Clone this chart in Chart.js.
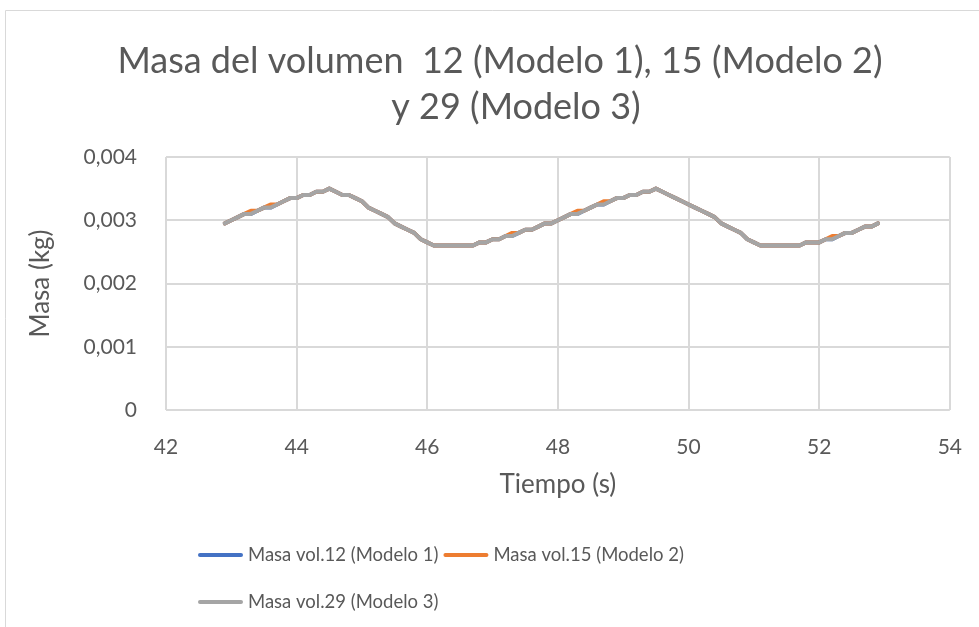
<!DOCTYPE html>
<html>
<head>
<meta charset="utf-8">
<title>Masa del volumen</title>
<script src="https://cdn.jsdelivr.net/npm/chart.js@4/dist/chart.umd.min.js"></script>
<style>
  html, body { margin: 0; padding: 0; background: #ffffff; }
  canvas { display: block; }
</style>
</head>
<body>
<canvas id="grafico" width="979" height="627"></canvas>
<script>
// Tiempo (s)
const tiempo = [
  42.9, 43.0, 43.1, 43.2, 43.3, 43.4, 43.5, 43.6, 43.7, 43.8, 43.9,
  44.0, 44.1, 44.2, 44.3, 44.4, 44.5, 44.6, 44.7, 44.8, 44.9,
  45.0, 45.1, 45.2, 45.3, 45.4, 45.5, 45.6, 45.7, 45.8, 45.9,
  46.0, 46.1, 46.2, 46.3, 46.4, 46.5, 46.6, 46.7, 46.8, 46.9,
  47.0, 47.1, 47.2, 47.3, 47.4, 47.5, 47.6, 47.7, 47.8, 47.9,
  48.0, 48.1, 48.2, 48.3, 48.4, 48.5, 48.6, 48.7, 48.8, 48.9,
  49.0, 49.1, 49.2, 49.3, 49.4, 49.5, 49.6, 49.7, 49.8, 49.9,
  50.0, 50.1, 50.2, 50.3, 50.4, 50.5, 50.6, 50.7, 50.8, 50.9,
  51.0, 51.1, 51.2, 51.3, 51.4, 51.5, 51.6, 51.7, 51.8, 51.9,
  52.0, 52.1, 52.2, 52.3, 52.4, 52.5, 52.6, 52.7, 52.8, 52.9
];

// Masa vol.12 (Modelo 1), kg
const masaVol12 = [
  0.00295, 0.00300, 0.00305, 0.00310, 0.00310, 0.00315, 0.00320, 0.00320, 0.00325, 0.00330, 0.00335,
  0.00335, 0.00340, 0.00340, 0.00345, 0.00345, 0.00350, 0.00345, 0.00340, 0.00340, 0.00335,
  0.00330, 0.00320, 0.00315, 0.00310, 0.00305, 0.00295, 0.00290, 0.00285, 0.00280, 0.00270,
  0.00265, 0.00260, 0.00260, 0.00260, 0.00260, 0.00260, 0.00260, 0.00260, 0.00265, 0.00265,
  0.00270, 0.00270, 0.00275, 0.00275, 0.00280, 0.00285, 0.00285, 0.00290, 0.00295, 0.00295,
  0.00300, 0.00305, 0.00310, 0.00310, 0.00315, 0.00320, 0.00325, 0.00325, 0.00330, 0.00335,
  0.00335, 0.00340, 0.00340, 0.00345, 0.00345, 0.00350, 0.00345, 0.00340, 0.00335, 0.00330,
  0.00325, 0.00320, 0.00315, 0.00310, 0.00305, 0.00295, 0.00290, 0.00285, 0.00280, 0.00270,
  0.00265, 0.00260, 0.00260, 0.00260, 0.00260, 0.00260, 0.00260, 0.00260, 0.00265, 0.00265,
  0.00265, 0.00270, 0.00270, 0.00275, 0.00280, 0.00280, 0.00285, 0.00290, 0.00290, 0.00295
];

// Masa vol.15 (Modelo 2), kg
const masaVol15 = [
  0.00295, 0.00300, 0.00305, 0.00310, 0.00315, 0.00315, 0.00320, 0.00325, 0.00325, 0.00330, 0.00335,
  0.00335, 0.00340, 0.00340, 0.00345, 0.00345, 0.00350, 0.00345, 0.00340, 0.00340, 0.00335,
  0.00330, 0.00320, 0.00315, 0.00310, 0.00305, 0.00295, 0.00290, 0.00285, 0.00280, 0.00270,
  0.00265, 0.00260, 0.00260, 0.00260, 0.00260, 0.00260, 0.00260, 0.00260, 0.00265, 0.00265,
  0.00270, 0.00270, 0.00275, 0.00280, 0.00280, 0.00285, 0.00285, 0.00290, 0.00295, 0.00295,
  0.00300, 0.00305, 0.00310, 0.00315, 0.00315, 0.00320, 0.00325, 0.00330, 0.00330, 0.00335,
  0.00335, 0.00340, 0.00340, 0.00345, 0.00345, 0.00350, 0.00345, 0.00340, 0.00335, 0.00330,
  0.00325, 0.00320, 0.00315, 0.00310, 0.00305, 0.00295, 0.00290, 0.00285, 0.00280, 0.00270,
  0.00265, 0.00260, 0.00260, 0.00260, 0.00260, 0.00260, 0.00260, 0.00260, 0.00265, 0.00265,
  0.00265, 0.00270, 0.00275, 0.00275, 0.00280, 0.00280, 0.00285, 0.00290, 0.00290, 0.00295
];

// Masa vol.29 (Modelo 3), kg
const masaVol29 = [
  0.00295, 0.00300, 0.00305, 0.00310, 0.00310, 0.00315, 0.00320, 0.00320, 0.00325, 0.00330, 0.00335,
  0.00335, 0.00340, 0.00340, 0.00345, 0.00345, 0.00350, 0.00345, 0.00340, 0.00340, 0.00335,
  0.00330, 0.00320, 0.00315, 0.00310, 0.00305, 0.00295, 0.00290, 0.00285, 0.00280, 0.00270,
  0.00265, 0.00260, 0.00260, 0.00260, 0.00260, 0.00260, 0.00260, 0.00260, 0.00265, 0.00265,
  0.00270, 0.00270, 0.00275, 0.00275, 0.00280, 0.00285, 0.00285, 0.00290, 0.00295, 0.00295,
  0.00300, 0.00305, 0.00310, 0.00310, 0.00315, 0.00320, 0.00325, 0.00325, 0.00330, 0.00335,
  0.00335, 0.00340, 0.00340, 0.00345, 0.00345, 0.00350, 0.00345, 0.00340, 0.00335, 0.00330,
  0.00325, 0.00320, 0.00315, 0.00310, 0.00305, 0.00295, 0.00290, 0.00285, 0.00280, 0.00270,
  0.00265, 0.00260, 0.00260, 0.00260, 0.00260, 0.00260, 0.00260, 0.00260, 0.00265, 0.00265,
  0.00265, 0.00270, 0.00270, 0.00275, 0.00280, 0.00280, 0.00285, 0.00290, 0.00290, 0.00295
];

const nombresSeries = ['Masa vol.12 (Modelo 1)', 'Masa vol.15 (Modelo 2)', 'Masa vol.29 (Modelo 3)'];
const coloresSeries = ['#4472C4', '#ED7D31', '#A5A5A5'];

const xTickValores = [42, 44, 46, 48, 50, 52, 54];
const xTickEtiquetas = ['42', '44', '46', '48', '50', '52', '54'];
const yTickValores = [0, 0.001, 0.002, 0.003, 0.004];
const yTickEtiquetas = ['0', '0,001', '0,002', '0,003', '0,004'];

const tituloLineas = ['Masa del volumen  12 (Modelo 1), 15 (Modelo 2)', 'y 29 (Modelo 3)'];
const tituloEjeX = 'Tiempo (s)';
const tituloEjeY = 'Masa (kg)';

const FUENTE = 'Lato, "Open Sans", sans-serif';
const GRIS_TEXTO = '#595959';
const GRIS_REJILLA = '#d9d9d9';

function puntos(valores) {
  return tiempo.map((t, i) => ({ x: t, y: valores[i] }));
}

// Outer frame, title and legend are painted around the chart area
const marcoTituloLeyenda = {
  id: 'marcoTituloLeyenda',
  beforeDraw(chart) {
    const ctx = chart.ctx;
    ctx.save();
    ctx.strokeStyle = GRIS_REJILLA;
    ctx.lineWidth = 1;
    ctx.beginPath();
    ctx.moveTo(5.5, 627);
    ctx.lineTo(5.5, 10.5);
    ctx.lineTo(979, 10.5);
    ctx.stroke();

    ctx.fillStyle = GRIS_TEXTO;
    ctx.font = '36px ' + FUENTE;
    ctx.textAlign = 'center';
    ctx.textBaseline = 'middle';
    ctx.fillText(tituloLineas[0], 500, 61);
    ctx.fillText(tituloLineas[1], 516, 107);
    ctx.restore();
  },
  afterDraw(chart) {
    const ctx = chart.ctx;
    const ds = chart.data.datasets;
    ctx.save();
    ctx.font = '18.5px ' + FUENTE;
    ctx.textAlign = 'left';
    ctx.textBaseline = 'middle';
    const largoLinea = 45;
    const hueco = 5;
    const filas = [[0, 1], [2]];
    const yFilas = [555, 602];
    filas.forEach((fila, f) => {
      let x = 198;
      fila.forEach(idx => {
        const y = yFilas[f];
        ctx.strokeStyle = ds[idx].borderColor;
        ctx.lineWidth = 4;
        ctx.lineCap = 'round';
        ctx.beginPath();
        ctx.moveTo(x + 2, y);
        ctx.lineTo(x + largoLinea - 2, y);
        ctx.stroke();
        ctx.fillStyle = GRIS_TEXTO;
        const tx = x + largoLinea + hueco;
        ctx.fillText(ds[idx].label, tx, y);
        x = tx + ctx.measureText(ds[idx].label).width + hueco;
      });
    });
    ctx.restore();
  }
};

function dibujar() {
  const ctx = document.getElementById('grafico').getContext('2d');
  new Chart(ctx, {
    type: 'line',
    data: {
      datasets: [
        { label: nombresSeries[0], data: puntos(masaVol12), borderColor: coloresSeries[0], backgroundColor: coloresSeries[0], order: 3 },
        { label: nombresSeries[1], data: puntos(masaVol15), borderColor: coloresSeries[1], backgroundColor: coloresSeries[1], order: 2 },
        { label: nombresSeries[2], data: puntos(masaVol29), borderColor: coloresSeries[2], backgroundColor: coloresSeries[2], order: 1 }
      ]
    },
    options: {
      responsive: false,
      animation: false,
      events: [],
      elements: {
        line: { borderWidth: 4, tension: 0, borderCapStyle: 'round', borderJoinStyle: 'round', fill: false },
        point: { radius: 0, hoverRadius: 0 }
      },
      layout: { padding: { left: 0, right: 0, top: 157, bottom: 122 } },
      plugins: {
        legend: { display: false },
        title: { display: false },
        tooltip: { enabled: false }
      },
      scales: {
        x: {
          type: 'linear',
          min: 42,
          max: 54,
          afterBuildTicks: s => { s.ticks = xTickValores.map(v => ({ value: v })); },
          afterFit: s => { s.height = 95; },
          ticks: {
            color: GRIS_TEXTO,
            font: { family: FUENTE, size: 21, lineHeight: 1.9 },
            padding: 17,
            maxRotation: 0,
            autoSkip: false,
            callback: (v, i) => xTickEtiquetas[i]
          },
          grid: { color: GRIS_REJILLA, lineWidth: 2, drawTicks: false },
          border: { display: false },
          title: {
            display: true,
            text: tituloEjeX,
            color: GRIS_TEXTO,
            font: { family: FUENTE, size: 26 },
            padding: { top: 0, bottom: 5 }
          }
        },
        y: {
          type: 'linear',
          min: 0,
          max: 0.004,
          afterBuildTicks: s => { s.ticks = yTickValores.map(v => ({ value: v })); },
          afterFit: s => { s.width = 166; },
          ticks: {
            color: GRIS_TEXTO,
            font: { family: FUENTE, size: 21 },
            padding: 29,
            autoSkip: false,
            callback: (v, i) => yTickEtiquetas[i]
          },
          grid: { color: GRIS_REJILLA, lineWidth: 2, drawTicks: false },
          border: { display: false },
          title: {
            display: true,
            text: tituloEjeY,
            color: GRIS_TEXTO,
            font: { family: FUENTE, size: 26 },
            padding: { top: 25, bottom: 0 }
          }
        }
      }
    },
    plugins: [marcoTituloLeyenda]
  });
}

if (document.fonts && document.fonts.load) {
  Promise.all([document.fonts.load('21px Lato'), document.fonts.load('36px Lato')])
    .then(dibujar, dibujar);
} else {
  dibujar();
}
</script>
</body>
</html>
